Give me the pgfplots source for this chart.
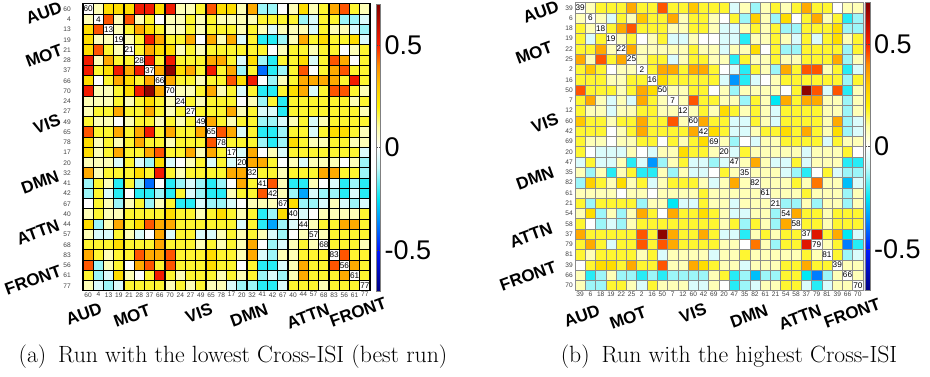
\documentclass[border=0pt]{standalone}
\usepackage{fontspec}
\usepackage{pgfplots}
\pgfplotsset{compat=1.18}
\usepackage{pgfplotstable}
\newfontfamily\lsans{Liberation Sans}

\tikzset{grp/.style={rotate=20, font=\lsans\bfseries\fontsize{17}{17}\selectfont}}
\pgfplotsset{
  colormap={fnc}{rgb255(0pt)=(0,0,130); rgb255(2pt)=(0,25,255); rgb255(3.5pt)=(0,150,255); rgb255(4.5pt)=(0,232,245); rgb255(6pt)=(195,250,250); rgb255(7pt)=(255,255,255); rgb255(8pt)=(255,255,165); rgb255(9pt)=(255,242,0); rgb255(10pt)=(255,200,0); rgb255(11pt)=(255,140,0); rgb255(12pt)=(255,30,0); rgb255(14pt)=(130,0,0)},
  hm/.style={
    scale only axis, anchor=south west,
    xmin=-0.5, xmax=27.5, ymin=-0.5, ymax=27.5,
    xtick={0,...,27}, ytick={0,...,27},
    major tick length=0pt,
    every x tick label/.style={font=\lsans\fontsize{6.6}{7}\selectfont, text=black!75, inner sep=0pt, anchor=north, yshift=-1.3pt},
    every y tick label/.style={font=\lsans\fontsize{6.6}{7}\selectfont, text=black!75, inner sep=0pt, anchor=east},
    colormap name=fnc, point meta min=-0.7, point meta max=0.7,
    colorbar,
  },
  cbar/.style={colorbar shift/.style={}, colorbar style={at={(parent axis.north east)}, anchor=north west,
      scale only axis, xtick=\empty, extra x ticks={}, extra y ticks={},
      ytick={-0.5,0,0.5}, yticklabels={-0.5,0,0.5},
      major tick length=2pt, tick style={black!70, line width=0.4pt},
      every y tick label/.style={font=\lsans\fontsize{27}{27}\selectfont, inner sep=0pt, anchor=west, xshift=4pt},
      axis line style={gray, line width=0.6pt}, #1}},
  diaglab/.style={only marks, mark=none, point meta=explicit symbolic, nodes near coords,
      every node near coord/.style={anchor=center, inner sep=0.3pt, font=\lsans\fontsize{8.2}{8.2}\selectfont}},
}

% lower triangles (row r, columns c0..c(r-1)); diagonal and above are 0 placeholders
\pgfplotstableread{
r c0 c1 c2 c3 c4 c5 c6 c7 c8 c9 c10 c11 c12 c13 c14 c15 c16 c17 c18 c19 c20 c21 c22 c23 c24 c25 c26 c27
0   0 0 0 0  0 0 0 0  0 0 0 0  0 0 0 0  0 0 0 0  0 0 0 0  0 0 0 0
1   0.08   0 0 0 0  0 0 0 0  0 0 0 0  0 0 0 0  0 0 0 0  0 0 0 0  0 0 0
2   0.25 0.45   0 0 0 0  0 0 0 0  0 0 0 0  0 0 0 0  0 0 0 0  0 0 0 0  0 0
3   0.25 0.08 0.08   0 0 0 0  0 0 0 0  0 0 0 0  0 0 0 0  0 0 0 0  0 0 0 0  0
4   0.25 0.45 0.17 0.08   0 0 0 0  0 0 0 0  0 0 0 0  0 0 0 0  0 0 0 0  0 0 0 0
5   0.52 0.08 0.35 0.17 0.17   0 0 0 0  0 0 0 0  0 0 0 0  0 0 0 0  0 0 0 0  0 0 0
6   0.52 0.17 0.25 0.52 0.35 0.52   0 0 0 0  0 0 0 0  0 0 0 0  0 0 0 0  0 0 0 0  0 0
7   0.25 0 0.17 0.35 0.25 0.17 0.35   0 0 0 0  0 0 0 0  0 0 0 0  0 0 0 0  0 0 0 0  0
8   0.52 0.08 0.08 0.17 0.25 0.52 0.68 0.35   0 0 0 0  0 0 0 0  0 0 0 0  0 0 0 0  0 0 0 0
9   0.08 0.08 0.08 0.17 0.08 0.17 0.25 0.17 0.08   0 0 0 0  0 0 0 0  0 0 0 0  0 0 0 0  0 0 0
10  0.08 0.17 0.17 0.35 0.17 0.17 0.35 0.17 0.08 0.17   0 0 0 0  0 0 0 0  0 0 0 0  0 0 0 0  0 0
11  0.17 0.08 0.08 0 0.08 0.17 0.17 0.08 0.17 0.08 0.17   0 0 0 0  0 0 0 0  0 0 0 0  0 0 0 0  0
12  0.45 0.17 0.17 0.35 0.17 0.35 0.52 0.17 0.35 0.17 0.17 0.35   0 0 0 0  0 0 0 0  0 0 0 0  0 0 0 0
13  0.25 0.08 0.17 0.08 0.17 0.35 0.17 0.17 0.08 0.17 0.17 0.17 0.45   0 0 0 0  0 0 0 0  0 0 0 0  0 0 0
14  0.25 0.08 0.17 0.35 0.17 0.17 0.35 0.45 0.17 0.17 0.35 0.08 0.35 0.17   0 0 0 0  0 0 0 0  0 0 0 0  0 0
15  0.08 0.08 0.08 -0.06 0.17 -0.06 -0.13 0.25 -0.06 0 0.08 0.17 -0.06 0.17 -0.06   0 0 0 0  0 0 0 0  0 0 0 0  0
16  0.35 0.08 0.17 0.17 0.17 0.25 0.17 0.52 0.17 0.08 0.17 0.17 0.17 0.17 0.35 0.35   0 0 0 0  0 0 0 0  0 0 0 0
17  -0.13 0.17 0.08 -0.22 0.17 -0.13 -0.4 0 -0.22 -0.13 -0.06 -0.13 -0.22 -0.13 0 0.35 0.17   0 0 0 0  0 0 0 0  0 0 0
18  -0.13 0.17 -0.06 -0.22 0 -0.22 -0.22 -0.13 -0.22 0.17 -0.06 -0.13 -0.22 -0.22 0.08 0.17 0.17 0.45   0 0 0 0  0 0 0 0  0 0
19  0 0.17 0.08 -0.13 0.08 0.17 -0.13 0.08 0.17 -0.22 -0.22 -0.06 -0.13 -0.13 -0.06 0 0.08 0.08 0.08   0 0 0 0  0 0 0 0  0
20  0.08 0.17 0.08 0.08 0.17 0.17 0.17 0.17 0.25 0.17 0.17 0.08 0.17 0.25 0.17 0.08 0.17 -0.22 -0.13 0.25   0 0 0 0  0 0 0 0
21  0.25 -0.13 0.08 0.35 0.17 0.25 0.45 0.35 0.35 0.17 0.17 0.17 0.17 0.17 0.17 -0.06 0.17 -0.22 -0.33 -0.13 -0.06   0 0 0 0  0 0 0
22  0.08 -0.06 -0.06 0.17 0.08 -0.06 0 0.35 -0.06 0.17 0.17 -0.06 -0.06 0.08 0.17 0.08 0.17 0.08 -0.06 -0.13 0 0.08   0 0 0 0  0 0
23  0.17 0.17 0.17 0.25 0.17 0.17 0.17 0.35 0.17 0.17 0.17 0.08 0.17 0.08 0.17 0.08 0.35 0 -0.13 -0.06 0.08 0.17 0.08   0 0 0 0  0
24  0.35 0.17 0.08 0.17 0.17 0.45 0.35 0.35 0.45 0.17 0.17 0.17 0.25 0.17 0.17 0.08 0.35 -0.06 -0.13 0.08 0.08 0.17 0.17 0.17   0 0 0 0
25  0.45 -0.13 0.08 0.17 0 0.35 0.45 0.17 0.45 0.17 0.17 0.17 0.25 0.17 0.17 0 0.17 -0.22 -0.22 -0.06 0.08 0.35 0.17 0.17 0.45   0 0 0
26  0.17 -0.13 -0.06 0.25 0.08 0 0.17 0.52 0.17 0.08 0.17 0.17 0.17 0.08 0.17 0.08 0.17 -0.13 -0.06 -0.13 0.08 0.35 0.17 0.17 0.17 0.35   0 0
27  0.08 -0.06 -0.13 -0.06 0.17 0.17 0.17 0.17 0.08 0.17 0.08 0.17 0.08 0.08 -0.06 -0.13 -0.13 -0.22 -0.22 -0.06 0.17 0.17 0.17 0.08 0.17 0.17 0.17   0
}\matA

\pgfplotstableread{
r c0 c1 c2 c3 c4 c5 c6 c7 c8 c9 c10 c11 c12 c13 c14 c15 c16 c17 c18 c19 c20 c21 c22 c23 c24 c25 c26 c27
0   0 0 0 0  0 0 0 0  0 0 0 0  0 0 0 0  0 0 0 0  0 0 0 0  0 0 0 0
1   0.08   0 0 0 0  0 0 0 0  0 0 0 0  0 0 0 0  0 0 0 0  0 0 0 0  0 0 0
2   0.17 0.08   0 0 0 0  0 0 0 0  0 0 0 0  0 0 0 0  0 0 0 0  0 0 0 0  0 0
3   0.17 -0.06 0.17   0 0 0 0  0 0 0 0  0 0 0 0  0 0 0 0  0 0 0 0  0 0 0 0  0
4   0.17 0.17 0.35 0.08   0 0 0 0  0 0 0 0  0 0 0 0  0 0 0 0  0 0 0 0  0 0 0 0
5   0.35 0.08 0.45 0.17 0.35   0 0 0 0  0 0 0 0  0 0 0 0  0 0 0 0  0 0 0 0  0 0 0
6   0.17 0.3 0.17 0 0.08 0.08   0 0 0 0  0 0 0 0  0 0 0 0  0 0 0 0  0 0 0 0  0 0
7   0.17 0.17 0.17 0.08 0.08 0.17 0.17   0 0 0 0  0 0 0 0  0 0 0 0  0 0 0 0  0 0 0 0  0
8   0.45 0.17 0.17 0.17 0.08 0.17 0.35 0.25   0 0 0 0  0 0 0 0  0 0 0 0  0 0 0 0  0 0 0 0
9   0.17 0.35 0.08 -0.06 0.08 -0.06 0.35 0.17 0.08   0 0 0 0  0 0 0 0  0 0 0 0  0 0 0 0  0 0 0
10  0.17 0.08 0.08 -0.06 0.08 0.08 0.17 0.17 0.08 0.08   0 0 0 0  0 0 0 0  0 0 0 0  0 0 0 0  0 0
11  0.3 0.17 0.17 0.08 0.17 0.17 0.35 0.17 0.17 0.45 0.08   0 0 0 0  0 0 0 0  0 0 0 0  0 0 0 0  0
12  0.17 0.17 0.17 0 0.08 0.17 0.35 0.17 0.17 0.17 0.17 0.35   0 0 0 0  0 0 0 0  0 0 0 0  0 0 0 0
13  0.17 0.08 0.08 0 0.08 0.08 0.17 0.17 0 0.17 0.08 0.17 0.25   0 0 0 0  0 0 0 0  0 0 0 0  0 0 0
14  0.17 0 -0.06 -0.06 -0.06 0.08 0 -0.06 0.08 0.08 0.25 0.17 0.17 0.08   0 0 0 0  0 0 0 0  0 0 0 0  0 0
15  -0.06 0.17 -0.06 -0.06 0.08 -0.22 -0.06 -0.35 -0.13 0.08 0.17 -0.06 -0.06 -0.13 -0.06   0 0 0 0  0 0 0 0  0 0 0 0  0
16  0.08 -0.13 0.08 -0.22 0.08 0.17 -0.22 -0.22 0.08 -0.13 0.08 -0.06 -0.06 0 0.17 0.08   0 0 0 0  0 0 0 0  0 0 0 0
17  -0.13 0.28 0.17 0.08 0.25 0.08 0.17 -0.06 0.08 0.17 0.17 0.17 0.08 -0.06 0.08 0.35 0.08   0 0 0 0  0 0 0 0  0 0 0
18  0.08 0.08 0.08 0.08 0 0.08 0.08 0 0.08 0.08 0.08 0.08 0.17 0.08 0.08 0.08 0.08 0.08   0 0 0 0  0 0 0 0  0 0
19  0.17 -0.13 0.17 0.17 0.17 0.17 -0.13 0.08 0.08 -0.25 -0.06 -0.06 0.17 0.08 0.08 -0.06 0.08 0.08 0.08   0 0 0 0  0 0 0 0  0
20  0.08 0.25 -0.13 0.08 -0.13 0.08 0.35 0.17 0 0.35 0.17 0.17 0.25 0.17 0.08 -0.06 -0.06 0.08 0.08 -0.13   0 0 0 0  0 0 0 0
21  0.17 0 -0.13 -0.06 -0.13 0.08 0.17 0.17 0.17 0.17 0.17 0.17 0.17 0.17 0.08 0.17 -0.13 0.17 0.08 -0.13 0.35   0 0 0 0  0 0 0
22  0.35 0.17 0.17 0.17 0.17 0.17 0.45 0.17 0.68 0.35 0.17 0.17 0.35 0.17 -0.06 -0.06 -0.22 0.08 0.17 0.08 0.17 0.17   0 0 0 0  0 0
23  0.17 0.35 0.17 -0.06 0.17 0.17 0.45 0.17 0.45 0.35 0.17 0.17 0.17 0.17 0.08 0.08 0 0.42 0.08 -0.13 0.17 0.17 0.55   0 0 0 0  0
24  0.17 0.08 0.17 0.17 0.17 0.17 0.08 0.17 -0.06 0.08 0.08 0.08 0.08 -0.06 0.08 0.08 0.17 0.08 0.08 0.08 0.08 0.08 0.17 0.08   0 0 0 0
25  0 0.17 0.25 0.25 0.17 0.35 0.17 0.17 0.45 0.08 0.08 0.35 0.25 0.17 0.08 0.08 -0.06 0.08 0.08 0.08 0.17 0.17 0.35 0.17 0.17   0 0 0
26  0.08 -0.22 -0.13 0.08 -0.13 -0.13 -0.22 -0.13 -0.22 -0.13 -0.13 -0.13 -0.13 0.08 0.17 -0.22 -0.13 -0.3 -0.13 -0.13 0.17 0.17 -0.25 -0.38 -0.13 0.08   0 0
27  0.08 -0.13 -0.13 0.17 0.17 0.08 -0.06 0.17 0.08 0.08 0.08 -0.06 -0.06 0.08 0 -0.22 -0.13 -0.06 0.08 0.08 0.17 0.17 -0.06 -0.22 -0.06 0.08 0.08   0
}\matB

\begin{document}
\begin{tikzpicture}[x=1pt,y=1pt]
\path[use as bounding box] (0,0) rectangle (930,377);

% ---------------- (a) ----------------
\begin{axis}[hm, at={(81,84)}, width=287pt, height=287pt,
  xticklabels={60,4,13,19,21,28,37,66,70,24,27,49,65,78,17,20,32,41,42,67,40,44,57,68,83,56,61,77},
  yticklabels={77,61,56,83,68,57,44,40,67,42,41,32,20,17,78,65,49,27,24,70,66,37,28,21,19,13,4,60},
  every y tick label/.append style={xshift=-12pt},
  axis line style={black, line width=1.2pt},
  cbar={xshift=6pt, width=4.5pt}]
\pgfplotsinvokeforeach{0,...,27}{
  \addplot[scatter, only marks, mark=square*, mark size=5.125pt, point meta=explicit,
    mark options={line width=1.1pt}, scatter/use mapped color={draw=black, fill=mapped color},
    restrict expr to domain={\thisrow{r}}{#1:27}] table[x expr=#1, y expr=27-\thisrow{r}, meta=c#1] \matA;
  \addplot[scatter, only marks, mark=square*, mark size=5.125pt, point meta=explicit,
    mark options={line width=1.1pt}, scatter/use mapped color={draw=black, fill=mapped color},
    restrict expr to domain={\thisrow{r}}{#1:27}] table[x=r, y expr=27-#1, meta=c#1] \matA;
}
\addplot[diaglab] table[meta=lab] {
x y lab
0 27 60
1 26 4
2 25 13
3 24 19
4 23 21
5 22 28
6 21 37
7 20 66
8 19 70
9 18 24
10 17 27
11 16 49
12 15 65
13 14 78
14 13 17
15 12 20
16 11 32
17 10 41
18 9 42
19 8 67
20 7 40
21 6 44
22 5 57
23 4 68
24 3 83
25 2 56
26 1 61
27 0 77
};
\end{axis}

% ---------------- (b) ----------------
\begin{axis}[hm, at={(559,84)}, width=288pt, height=288pt,
  xticklabels={39,6,18,19,22,25,2,16,50,7,12,60,42,69,20,47,35,82,61,21,54,58,37,79,81,39,66,70},
  yticklabels={70,66,39,81,79,37,58,54,21,61,82,35,47,20,69,42,60,12,7,50,16,2,25,22,19,18,6,39},
  every y tick label/.append style={xshift=-2pt},
  axis line style={black, line width=0.9pt},
  axis on top,
  extra x ticks={0.5,8.5,13.5,19.5,24.5}, extra x tick labels={},
  extra y ticks={26.5,18.5,13.5,7.5,2.5}, extra y tick labels={},
  extra tick style={grid=major, major grid style={black, line width=1.1pt}},
  cbar={xshift=2pt, width=5pt}]
\pgfplotsinvokeforeach{0,...,27}{
  \addplot[scatter, only marks, mark=square*, mark size=5.143pt, point meta=explicit,
    mark options={line width=0.4pt}, scatter/use mapped color={draw=black!45, fill=mapped color},
    restrict expr to domain={\thisrow{r}}{#1:27}] table[x expr=#1, y expr=27-\thisrow{r}, meta=c#1] \matB;
  \addplot[scatter, only marks, mark=square*, mark size=5.143pt, point meta=explicit,
    mark options={line width=0.4pt}, scatter/use mapped color={draw=black!45, fill=mapped color},
    restrict expr to domain={\thisrow{r}}{#1:27}] table[x=r, y expr=27-#1, meta=c#1] \matB;
}
\addplot[diaglab] table[meta=lab] {
x y lab
0 27 39
1 26 6
2 25 18
3 24 19
4 23 22
5 22 25
6 21 2
7 20 16
8 19 50
9 18 7
10 17 12
11 16 60
12 15 42
13 14 69
14 13 20
15 12 47
16 11 35
17 10 82
18 9 61
19 8 21
20 7 54
21 6 58
22 5 37
23 4 79
24 3 81
25 2 39
26 1 66
27 0 70
};
\end{axis}

% group labels (a)
\node[grp] at (44,364) {AUD};
\node[grp] at (44,321) {MOT};
\node[grp] at (47,253) {VIS};
\node[grp] at (40,195) {DMN};
\node[grp] at (38,145) {ATTN};
\node[grp] at (33,97) {FRONT};
\node[grp] at (84,63) {AUD};
\node[grp] at (132,61) {MOT};
\node[grp] at (199,64) {VIS};
\node[grp] at (249,62) {DMN};
\node[grp] at (308,61) {ATTN};
\node[grp] at (358,65) {FRONT};
% group labels (b)
\node[grp] at (541,365) {AUD};
\node[grp] at (534,324) {MOT};
\node[grp] at (545,254) {VIS};
\node[grp] at (535,199) {DMN};
\node[grp] at (531,142) {ATTN};
\node[grp] at (528,101) {FRONT};
\node[grp] at (582,61) {AUD};
\node[grp] at (628,59) {MOT};
\node[grp] at (693,64) {VIS};
\node[grp] at (749,61) {DMN};
\node[grp] at (800,60) {ATTN};
\node[grp] at (852,64) {FRONT};

% captions
\node[font=\fontsize{23.5}{25}\selectfont, xscale=1.01] at (233,20) {(a)\enspace Run with the lowest Cross-ISI (best run)};
\node[font=\fontsize{23.5}{25}\selectfont, xscale=1.01] at (729,20) {(b)\enspace Run with the highest Cross-ISI};
\end{tikzpicture}
\end{document}
